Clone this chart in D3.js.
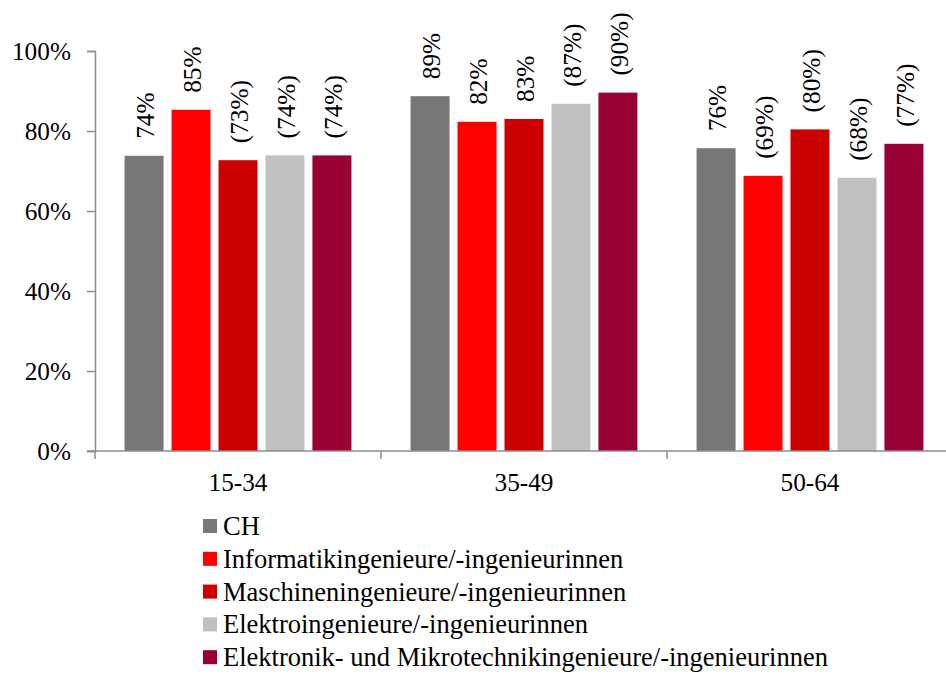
<!DOCTYPE html>
<html><head><meta charset="utf-8">
<script src="https://cdn.jsdelivr.net/npm/d3@7"></script>
<style>body{margin:0;background:#fff}svg{display:block}</style>
</head><body><svg id="c" width="946" height="674"></svg>
<script>
const categories = ["15-34", "35-49", "50-64"];
const seriesNames = ["CH", "Informatikingenieure/-ingenieurinnen", "Maschineningenieure/-ingenieurinnen", "Elektroingenieure/-ingenieurinnen", "Elektronik- und Mikrotechnikingenieure/-ingenieurinnen"];
const seriesColors = ["#777777", "#ff0000", "#cc0000", "#c0c0c0", "#990033"];
const valCH = [73.8, 88.7, 75.7];
const valInformatik = [85.3, 82.3, 68.8];
const valMaschinen = [72.7, 83.0, 80.4];
const valElektro = [73.9, 86.8, 68.3];
const valElektronik = [73.9, 89.6, 76.8];
const labelsCH = ["74%", "89%", "76%"];
const labelsInformatik = ["85%", "82%", "(69%)"];
const labelsMaschinen = ["(73%)", "83%", "(80%)"];
const labelsElektro = ["(74%)", "(87%)", "(68%)"];
const labelsElektronik = ["(74%)", "(90%)", "(77%)"];
const yTicks = [0, 20, 40, 60, 80, 100];

const values = [valCH, valInformatik, valMaschinen, valElektro, valElektronik];
const labels = [labelsCH, labelsInformatik, labelsMaschinen, labelsElektro, labelsElektronik];
const FONT = "'Liberation Serif', 'Times New Roman', serif";
const FS = 25.3;
const LFS = 26.5;

const svg = d3.select("#c");
const x0 = d3.scaleBand().domain(categories).range([95, 953]).paddingInner(0).paddingOuter(0);
const x1 = d3.scaleBand().domain(d3.range(seriesNames.length)).range([0, x0.bandwidth()]).paddingInner(0.17).paddingOuter(0.63);
const y = d3.scaleLinear().domain([0, 100]).range([451, 51]);

const axisColor = "#8c8c8c";
// y axis
const yAxis = svg.append("g").attr("transform", "translate(95,0)")
  .call(d3.axisLeft(y).tickValues(yTicks).tickSize(8).tickPadding(16).tickFormat(d => d + "%"));
yAxis.attr("font-family", null).attr("font-size", null);
yAxis.select(".domain").attr("stroke", axisColor).attr("stroke-width", 1.5);
yAxis.selectAll(".tick line").attr("stroke", axisColor).attr("stroke-width", 1.5);
yAxis.selectAll("text").style("font-size", FS + "px").style("font-family", FONT).attr("fill", "#000");

// bars
const data = [];
categories.forEach((c, ci) => seriesNames.forEach((s, si) => data.push({c, si, v: values[si][ci], l: labels[si][ci]})));
svg.append("g").selectAll("rect").data(data).join("rect")
  .attr("x", d => x0(d.c) + x1(d.si))
  .attr("width", x1.bandwidth())
  .attr("y", d => y(d.v))
  .attr("height", d => y(0) - y(d.v))
  .attr("fill", d => seriesColors[d.si]);

svg.append("g").selectAll("text").data(data).join("text")
  .attr("transform", d => `translate(${x0(d.c) + x1(d.si) + x1.bandwidth() / 2 + 1},${y(d.v) - 17}) rotate(-90)`)
  .attr("dominant-baseline", "central")
  .style("font-size", FS + "px").style("font-family", FONT)
  .text(d => d.l);

// x axis
const xAxis = svg.append("g").attr("transform", "translate(0,451)");
xAxis.append("line").attr("x1", 87).attr("x2", 953).attr("stroke", axisColor).attr("stroke-width", 1.5);
const xBoundaries = categories.map(c => x0(c)).concat([x0.range()[1]]);
xAxis.selectAll("line.tk").data(xBoundaries).join("line").attr("class", "tk")
  .attr("x1", d => d).attr("x2", d => d).attr("y1", 0).attr("y2", 8)
  .attr("stroke", axisColor).attr("stroke-width", 1.5);
xAxis.selectAll("text").data(categories).join("text")
  .attr("x", d => x0(d) + x0.bandwidth() / 2)
  .attr("y", 40)
  .attr("text-anchor", "middle")
  .style("font-size", FS + "px").style("font-family", FONT)
  .text(d => d);

// legend
const leg = svg.append("g").attr("transform", "translate(203,526)");
const li = leg.selectAll("g").data(seriesNames).join("g").attr("transform", (d, i) => `translate(0,${i * 32.8})`);
li.append("rect").attr("x", 0).attr("y", -7).attr("width", 14).attr("height", 14).attr("fill", (d, i) => seriesColors[i]);
li.append("text").attr("x", 20).attr("y", 0).attr("dominant-baseline", "central")
  .style("font-size", LFS + "px").style("font-family", FONT).text(d => d);
</script></body></html>
